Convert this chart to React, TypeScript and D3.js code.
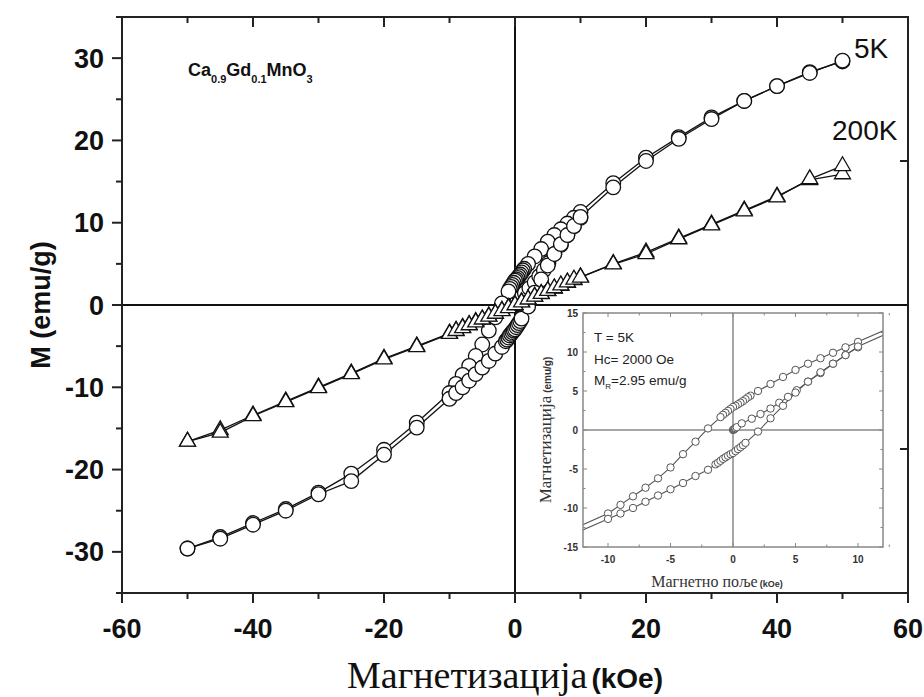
import React from "react";
import * as d3 from "d3";

// ---------- data (5 K, circles) ----------
const virgin5H = [0, 0.05, 0.1, 0.15, 0.2, 0.3, 0.7, 1.5, 2.2, 3, 3.7, 4.4, 5.1, 6, 7, 8, 9, 10];
const virgin5M = [0, 0.06, 0.12, 0.18, 0.24, 0.36, 0.85, 1.45, 2.05, 2.75, 3.5, 4.25, 5.1, 6.2, 7.3, 8.5, 9.6, 10.6];

const desc5H = [50, 45, 40, 35, 30, 25, 20, 15, 10, 9, 8, 7, 6, 5, 4, 3, 2, 1.4, 1.2, 1, 0.8, 0.6, 0.4, 0.2, 0, -0.2, -0.4, -0.6, -0.8, -1, -2, -3, -4, -5, -6, -7, -8, -9, -10, -15, -20, -25, -30, -35, -40, -45, -50];
const desc5M = [29.6, 28.3, 26.6, 24.8, 22.8, 20.4, 17.9, 14.8, 11.3, 10.6, 9.9, 9.2, 8.5, 7.7, 6.8, 5.9, 5.0, 4.4, 4.2, 3.95, 3.7, 3.5, 3.3, 3.1, 2.95, 2.7, 2.45, 2.2, 1.95, 1.65, 0.2, -1.5, -3.1, -4.8, -6.2, -7.4, -8.5, -9.6, -10.7, -14.3, -17.6, -20.5, -22.8, -24.8, -26.5, -28.2, -29.6];

const asc5H = [-50, -45, -40, -35, -30, -25, -20, -15, -10, -9, -8, -7, -6, -5, -4, -3, -2, -1.4, -1.2, -1, -0.8, -0.6, -0.4, -0.2, 0, 0.2, 0.4, 0.6, 0.8, 1, 2, 3, 4, 5, 6, 7, 8, 9, 10, 15, 20, 25, 30, 35, 40, 45, 50];
const asc5M = [-29.6, -28.4, -26.7, -25.0, -23.0, -21.4, -18.2, -14.9, -11.4, -10.7, -10.0, -9.2, -8.4, -7.6, -6.8, -5.9, -5.1, -4.4, -4.2, -3.95, -3.7, -3.5, -3.3, -3.1, -2.95, -2.7, -2.45, -2.2, -1.95, -1.65, -0.2, 1.5, 3.1, 4.8, 6.2, 7.4, 8.5, 9.6, 10.7, 14.3, 17.5, 20.2, 22.6, 24.8, 26.6, 28.2, 29.7];

// ---------- data (200 K, triangles) ----------
const desc200H = [50, 45, 40, 35, 30, 25, 20, 15, 10, 9, 8, 7, 6, 5, 4, 3, 2, 1, 0, -1, -2, -3, -4, -5, -6, -7, -8, -9, -10, -15, -20, -25, -30, -35, -40, -45, -50];
const desc200M = [15.9, 15.2, 13.2, 11.5, 9.8, 8.1, 6.4, 5.0, 3.4, 3.05, 2.7, 2.35, 2.0, 1.7, 1.35, 1.0, 0.7, 0.35, 0.02, -0.33, -0.68, -1.02, -1.36, -1.72, -2.05, -2.4, -2.75, -3.1, -3.45, -5.0, -6.5, -8.3, -10.0, -11.7, -13.4, -15.2, -16.6];
const asc200H = [-50, -45, -40, -35, -30, -25, -20, -15, -10, -9, -8, -7, -6, -5, -4, -3, -2, -1, 0, 1, 2, 3, 4, 5, 6, 7, 8, 9, 10, 15, 20, 25, 30, 35, 40, 45, 50];
const asc200M = [-16.6, -15.5, -13.5, -11.8, -10.1, -8.4, -6.6, -5.1, -3.5, -3.15, -2.8, -2.45, -2.1, -1.75, -1.4, -1.05, -0.72, -0.37, -0.02, 0.33, 0.68, 1.02, 1.36, 1.72, 2.05, 2.4, 2.75, 3.1, 3.35, 4.95, 6.2, 8.0, 9.7, 11.4, 13.1, 15.3, 16.9];

// ---------- axes ----------
const mainXTicks = [-60, -40, -20, 0, 20, 40, 60];
const mainXMinor = [-50, -30, -10, 10, 30, 50];
const mainYTicks = [-30, -20, -10, 0, 10, 20, 30];
const mainYMinor = [-35, -25, -15, -5, 5, 15, 25, 35];
const rightTicks = [17.5, -17.5];
const insetXTicks = [-10, -5, 0, 5, 10];
const insetXMinor = [-12.5, -7.5, -2.5, 2.5, 7.5, 12.5];
const insetYTicks = [-15, -10, -5, 0, 5, 10, 15];
const insetYMinor = [-12.5, -7.5, -2.5, 2.5, 7.5, 12.5];

const insetNotes = ["T = 5K", "Hc= 2000 Oe"];

type Pt = [number, number];
const zip = (a: number[], b: number[]): Pt[] => a.map((v, i) => [v, b[i]]);

const SANS = "'Liberation Sans', Arial, sans-serif";
const SERIF = "'Liberation Serif', 'Times New Roman', serif";

export default function App() {
  const x = d3.scaleLinear().domain([-60, 60]).range([122, 908]);
  const y = d3.scaleLinear().domain([-35, 35]).range([593, 17]);
  const xi = d3.scaleLinear().domain([-12, 12]).range([583, 883]);
  const yi = d3.scaleLinear().domain([-15, 15]).range([547, 313]);

  const series5 = [zip(virgin5H, virgin5M), zip(desc5H, desc5M), zip(asc5H, asc5M)];
  const series200 = [zip(desc200H, desc200M), zip(asc200H, asc200M)];

  const lineMain = d3.line<Pt>().x((d) => x(d[0])).y((d) => y(d[1]));
  const lineInset = d3.line<Pt>().x((d) => xi(d[0])).y((d) => yi(d[1]));
  const tri = d3.symbol().type(d3.symbolTriangle).size(110)();

  const [x0, x1] = x.range();
  const [y0, y1] = y.range(); // y0 bottom, y1 top
  const [ix0, ix1] = xi.range();
  const [iy0, iy1] = yi.range();

  return (
    <svg width={924} height={697} style={{ position: "absolute", left: 0, top: 0, background: "#fff" }}>
      <defs>
        <clipPath id="insetClip">
          <rect x={ix0} y={iy1} width={ix1 - ix0} height={iy0 - iy1} />
        </clipPath>
      </defs>
      <rect x={0} y={0} width={924} height={697} fill="#fff" />

      {/* zero lines */}
      <line x1={x(0)} x2={x(0)} y1={y1} y2={y0} stroke="#111" strokeWidth={2} />
      <line x1={x0} x2={x1} y1={y(0)} y2={y(0)} stroke="#111" strokeWidth={2} />

      {/* 5K data */}
      {series5.map((s, i) => (
        <path key={"l5" + i} d={lineMain(s) || ""} fill="none" stroke="#111" strokeWidth={1.3} />
      ))}
      {series5.map((s, i) =>
        s.map((d, j) => (
          <circle key={`c5-${i}-${j}`} cx={x(d[0])} cy={y(d[1])} r={7.3} fill="#fff" stroke="#111" strokeWidth={1.3} />
        ))
      )}

      {/* 200K data */}
      {series200.map((s, i) => (
        <path key={"l2" + i} d={lineMain(s) || ""} fill="none" stroke="#111" strokeWidth={1.3} />
      ))}
      {series200.map((s, i) =>
        s.map((d, j) => (
          <path key={`t2-${i}-${j}`} d={tri || ""} transform={`translate(${x(d[0])},${y(d[1])})`} fill="#fff" stroke="#111" strokeWidth={1.3} />
        ))
      )}

      {/* frame */}
      <rect x={x0} y={y1} width={x1 - x0} height={y0 - y1} fill="none" stroke="#222" strokeWidth={2} />

      {/* bottom ticks (outward) and top ticks (inward) */}
      {mainXTicks.map((t) => (
        <g key={"xt" + t}>
          <line x1={x(t)} x2={x(t)} y1={y0} y2={y0 + 10} stroke="#222" strokeWidth={2} />
          <line x1={x(t)} x2={x(t)} y1={y1} y2={y1 + 10} stroke="#222" strokeWidth={2} />
          <text x={x(t)} y={y0 + 45} textAnchor="middle" fontFamily={SANS} fontWeight="bold" fontSize={27} fill="#111">{t}</text>
        </g>
      ))}
      {mainXMinor.map((t) => (
        <g key={"xm" + t}>
          <line x1={x(t)} x2={x(t)} y1={y0} y2={y0 + 6} stroke="#222" strokeWidth={2} />
          <line x1={x(t)} x2={x(t)} y1={y1} y2={y1 + 6} stroke="#222" strokeWidth={2} />
        </g>
      ))}
      {/* left ticks */}
      {mainYTicks.map((t) => (
        <g key={"yt" + t}>
          <line x1={x0 - 10} x2={x0} y1={y(t)} y2={y(t)} stroke="#222" strokeWidth={2} />
          <text x={x0 - 18} y={y(t) + 9.5} textAnchor="end" fontFamily={SANS} fontWeight="bold" fontSize={27} fill="#111">{t}</text>
        </g>
      ))}
      {mainYMinor.map((t) => (
        <line key={"ym" + t} x1={x0 - 6} x2={x0} y1={y(t)} y2={y(t)} stroke="#222" strokeWidth={2} />
      ))}
      {rightTicks.map((t) => (
        <line key={"rt" + t} x1={x1 - 8} x2={x1} y1={y(t)} y2={y(t)} stroke="#222" strokeWidth={2} />
      ))}

      {/* axis titles */}
      <text transform={`translate(50,${y(0)}) rotate(-90)`} textAnchor="middle" fontFamily={SANS} fontWeight="bold" fontSize={27} fill="#111">M (emu/g)</text>
      <text x={505} y={688} textAnchor="middle" fill="#111">
        <tspan fontFamily={SERIF} fontSize={38}>Магнетизација</tspan>
        <tspan fontFamily={SANS} fontWeight="bold" fontSize={28} dx={4}>(kOe)</tspan>
      </text>

      {/* annotations */}
      <text x={188} y={76} fontFamily={SANS} fontWeight="bold" fontSize={18} fill="#111">
        Ca<tspan fontSize={11} dy={7}>0.9</tspan>
        <tspan dy={-7}>Gd</tspan><tspan fontSize={11} dy={7}>0.1</tspan>
        <tspan dy={-7}>MnO</tspan><tspan fontSize={11} dy={7}>3</tspan>
      </text>
      <text x={854} y={58} fontFamily={SANS} fontSize={28} fill="#111">5K</text>
      <text x={832} y={140} fontFamily={SANS} fontSize={28} fill="#111">200K</text>

      {/* inset */}
      <rect x={ix0} y={iy1} width={ix1 - ix0} height={iy0 - iy1} fill="#fff" />
      <g clipPath="url(#insetClip)">
        <line x1={xi(0)} x2={xi(0)} y1={iy1} y2={iy0} stroke="#888" strokeWidth={1.5} />
        <line x1={ix0} x2={ix1} y1={yi(0)} y2={yi(0)} stroke="#888" strokeWidth={1.5} />
        {series5.map((s, i) => (
          <path key={"il" + i} d={lineInset(s) || ""} fill="none" stroke="#555" strokeWidth={1.1} />
        ))}
        {series5.map((s, i) =>
          s.map((d, j) => (
            <circle key={`ic-${i}-${j}`} cx={xi(d[0])} cy={yi(d[1])} r={3.7} fill="#fff" stroke="#555" strokeWidth={1} />
          ))
        )}
      </g>
      <rect x={ix0} y={iy1} width={ix1 - ix0} height={iy0 - iy1} fill="none" stroke="#888" strokeWidth={1.5} />
      {insetXTicks.map((t) => (
        <g key={"ixt" + t}>
          <line x1={xi(t)} x2={xi(t)} y1={iy0} y2={iy0 - 4} stroke="#888" />
          <line x1={xi(t)} x2={xi(t)} y1={iy1} y2={iy1 + 4} stroke="#888" />
          <text x={xi(t)} y={iy0 + 16} textAnchor="middle" fontFamily={SANS} fontWeight="bold" fontSize={10} fill="#333">{t}</text>
        </g>
      ))}
      {insetXMinor.map((t) => (
        <g key={"ixm" + t}>
          <line x1={xi(t)} x2={xi(t)} y1={iy0} y2={iy0 - 2.5} stroke="#888" />
          <line x1={xi(t)} x2={xi(t)} y1={iy1} y2={iy1 + 2.5} stroke="#888" />
        </g>
      ))}
      {insetYTicks.map((t) => (
        <g key={"iyt" + t}>
          <line x1={ix0} x2={ix0 + 4} y1={yi(t)} y2={yi(t)} stroke="#888" />
          <line x1={ix1} x2={ix1 - 4} y1={yi(t)} y2={yi(t)} stroke="#888" />
          <text x={ix0 - 5} y={yi(t) + 3.5} textAnchor="end" fontFamily={SANS} fontWeight="bold" fontSize={10} fill="#333">{t}</text>
        </g>
      ))}
      {insetYMinor.map((t) => (
        <g key={"iym" + t}>
          <line x1={ix0} x2={ix0 + 2.5} y1={yi(t)} y2={yi(t)} stroke="#888" />
          <line x1={ix1} x2={ix1 - 2.5} y1={yi(t)} y2={yi(t)} stroke="#888" />
        </g>
      ))}
      {insetNotes.map((s, i) => (
        <text key={s} x={ix0 + 11} y={iy1 + 29 + i * 21.5} fontFamily={SANS} fontSize={13.5} fill="#222">{s}</text>
      ))}
      <text x={ix0 + 11} y={iy1 + 72} fontFamily={SANS} fontSize={13.5} fill="#222">
        M<tspan fontSize={8} dy={4}>R</tspan><tspan dy={-4}>=2.95 emu/g</tspan>
      </text>
      <text transform={`translate(551,${yi(0)}) rotate(-90)`} textAnchor="middle" fill="#333">
        <tspan fontFamily={SERIF} fontSize={17}>Магнетизација</tspan>
        <tspan fontFamily={SANS} fontWeight="bold" fontSize={10} dx={3}>(emu/g)</tspan>
      </text>
      <text x={717} y={587} textAnchor="middle" fill="#333">
        <tspan fontFamily={SERIF} fontSize={16}>Магнетно поље</tspan>
        <tspan fontFamily={SANS} fontWeight="bold" fontSize={9} dx={2}>(kOe)</tspan>
      </text>
    </svg>
  );
}
